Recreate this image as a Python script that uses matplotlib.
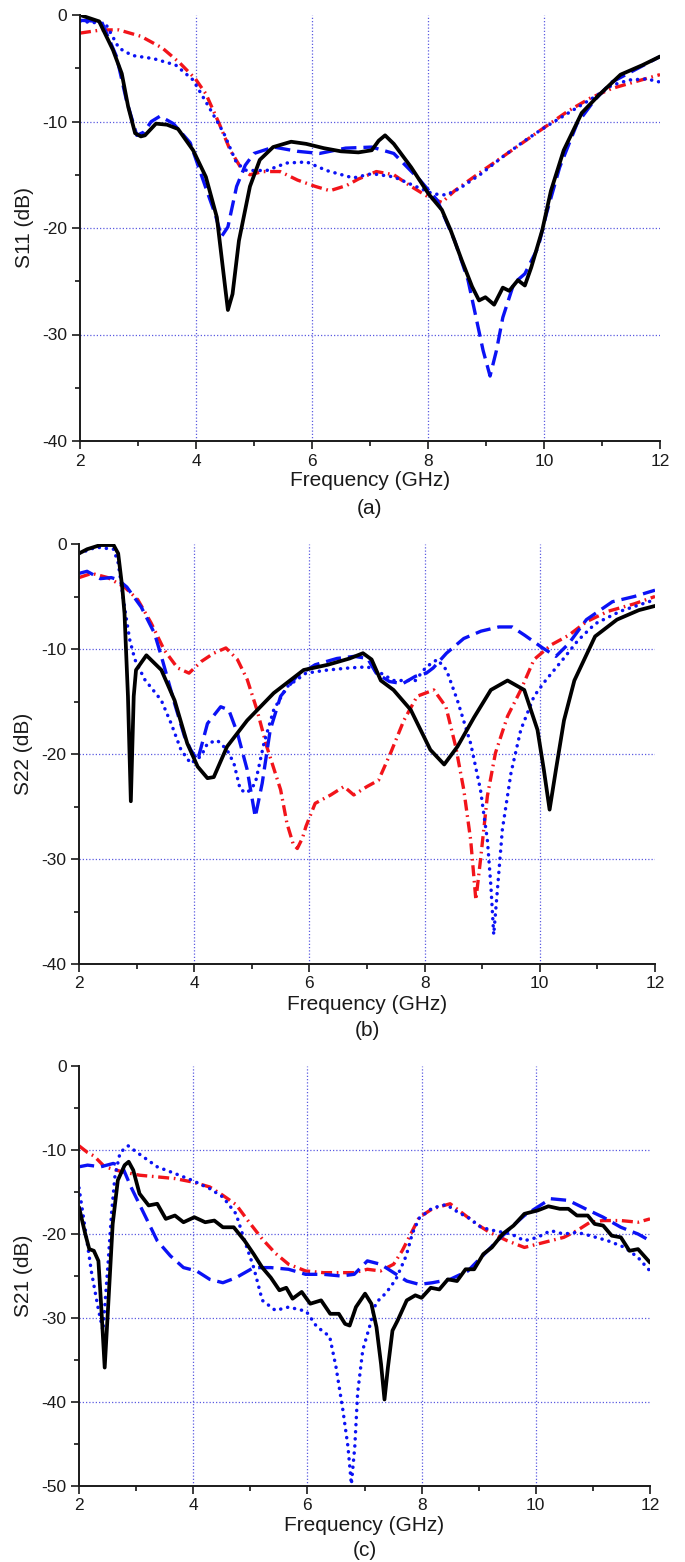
import matplotlib
matplotlib.use("Agg")
import matplotlib.pyplot as plt
from matplotlib.ticker import MultipleLocator

plt.rcParams["font.family"] = ["Liberation Sans", "DejaVu Sans"]
plt.rcParams["axes.unicode_minus"] = False

# ---------------------------------------------------------
# data (frequency in GHz, level in dB)
# ---------------------------------------------------------

# (a) S11
s11_solid_f = [2.0, 2.33, 2.57, 2.72, 2.83, 2.95, 3.05, 3.12, 3.31, 3.5, 3.69, 3.95, 4.17, 4.36, 4.51,
               4.55, 4.63, 4.74, 4.93, 5.1, 5.33, 5.64, 5.9, 6.2, 6.5, 6.8, 7.03, 7.15, 7.26, 7.41,
               7.71, 8.01, 8.24, 8.39, 8.58, 8.76, 8.88, 8.99, 9.14, 9.29, 9.4, 9.55, 9.67, 9.78,
               9.97, 10.12, 10.34, 10.65, 10.95, 11.32, 11.7, 12.0]
s11_solid = [0.0, -0.6, -3.3, -5.5, -8.6, -11.1, -11.4, -11.3, -10.2, -10.3, -10.7, -12.7, -15.2, -19.0, -25.9,
             -27.7, -26.2, -21.2, -16.1, -13.6, -12.4, -11.9, -12.1, -12.5, -12.8, -12.9, -12.7, -11.8, -11.3, -12.1,
             -14.3, -16.8, -18.3, -20.2, -23.0, -25.5, -26.8, -26.5, -27.2, -25.6, -25.9, -24.9, -25.4, -23.7,
             -20.2, -16.5, -12.7, -9.2, -7.5, -5.6, -4.7, -3.9]

s11_dash_f = [2.0, 2.37, 2.63, 2.8, 2.98, 3.1, 3.23, 3.38, 3.61, 3.9, 4.18, 4.33, 4.44, 4.55, 4.7,
              4.85, 5.0, 5.34, 5.75, 6.13, 6.58, 7.03, 7.41, 7.86, 8.16, 8.46, 8.69, 8.84, 8.95, 9.07,
              9.18, 9.29, 9.48, 9.67, 9.9, 10.04, 10.27, 10.57, 10.87, 11.17, 11.62, 12.0]
s11_dash = [-0.5, -0.6, -3.9, -8.0, -11.3, -11.0, -10.0, -9.5, -10.2, -12.0, -16.4, -18.7, -20.8, -19.9, -16.1,
            -14.1, -13.0, -12.4, -12.8, -13.0, -12.5, -12.4, -13.0, -15.5, -17.4, -21.2, -24.9, -28.7, -31.5, -33.9,
            -31.5, -28.4, -25.2, -24.3, -21.8, -18.7, -14.3, -10.2, -8.0, -6.3, -5.0, -3.9]

s11_dot_f = [2.0, 2.44, 2.67, 2.9, 3.27, 3.65, 3.95, 4.25, 4.48, 4.7, 4.87, 5.22, 5.56, 5.91, 6.25,
             6.71, 7.03, 7.41, 7.79, 8.09, 8.31, 8.54, 8.92, 9.29, 9.67, 9.97, 10.42, 10.87, 11.17, 11.47,
             11.77, 12.0]
s11_dot = [-0.6, -0.8, -3.1, -3.8, -4.1, -4.7, -6.1, -8.9, -11.1, -13.9, -14.6, -14.6, -13.9, -13.8, -14.6,
           -15.3, -14.9, -15.2, -16.1, -16.8, -16.9, -16.3, -14.9, -13.3, -11.8, -10.7, -9.2, -7.7, -6.6, -6.1,
           -6.0, -6.3]

s11_dashdot_f = [2.0, 2.37, 2.67, 3.05, 3.42, 3.72, 3.99, 4.17, 4.4, 4.59, 4.78, 4.93, 5.15, 5.45, 5.75,
                 6.06, 6.31, 6.6, 6.8, 7.11, 7.41, 7.71, 8.01, 8.24, 8.46, 8.92, 9.29, 9.97, 10.42, 10.8,
                 11.17, 11.55, 12.0]
s11_dashdot = [-1.7, -1.4, -1.4, -2.0, -3.1, -4.5, -6.0, -7.4, -10.2, -12.7, -14.4, -15.0, -14.7, -14.7, -15.5,
               -16.1, -16.5, -16.0, -15.4, -14.7, -15.0, -16.1, -17.1, -17.6, -16.5, -14.7, -13.3, -10.7, -9.0, -7.8,
               -6.9, -6.3, -5.6]

# (b) S22
s22_solid_f = [2.0, 2.14, 2.37, 2.6, 2.68, 2.75, 2.79, 2.85, 2.9, 2.95, 2.99, 3.17, 3.43, 3.66, 3.88,
               4.06, 4.23, 4.34, 4.57, 4.92, 5.38, 5.9, 6.32, 6.7, 6.93, 7.08, 7.24, 7.46, 7.76, 8.1,
               8.34, 8.57, 8.86, 9.15, 9.44, 9.73, 9.96, 10.07, 10.17, 10.28, 10.42, 10.6, 10.96, 11.34, 11.72,
               12.0]
s22_solid = [-0.9, -0.5, -0.1, -0.1, -0.9, -4.1, -6.6, -14.5, -24.5, -14.5, -12.0, -10.6, -12.0, -14.9, -19.0,
             -21.2, -22.3, -22.2, -19.3, -16.8, -14.2, -12.0, -11.5, -10.9, -10.4, -11.0, -13.0, -13.9, -15.8, -19.6,
             -21.0, -19.3, -16.5, -13.9, -13.0, -13.9, -17.7, -21.5, -25.3, -21.5, -16.8, -13.0, -8.8, -7.2, -6.3,
             -5.9]

s22_dash_f = [2.0, 2.14, 2.37, 2.56, 2.68, 2.83, 3.08, 3.31, 3.43, 3.66, 3.83, 3.94, 4.06, 4.23, 4.46,
              4.6, 4.75, 4.92, 5.06, 5.18, 5.32, 5.5, 5.78, 6.1, 6.48, 6.78, 7.01, 7.16, 7.39, 7.62,
              7.84, 8.03, 8.15, 8.38, 8.68, 8.98, 9.29, 9.52, 9.74, 10.05, 10.28, 10.5, 10.81, 11.26, 11.64,
              12.0]
s22_dash = [-2.8, -2.6, -3.3, -3.2, -3.4, -4.1, -6.0, -8.5, -10.7, -15.2, -18.3, -19.6, -20.6, -17.1, -15.5,
            -15.8, -18.0, -21.5, -26.0, -22.8, -17.7, -14.5, -12.6, -11.5, -10.9, -10.7, -10.9, -12.3, -13.1, -13.3,
            -12.6, -12.3, -11.8, -10.4, -9.0, -8.3, -7.9, -7.9, -8.7, -9.9, -10.7, -9.5, -7.2, -5.5, -5.0,
            -4.4]

s22_dot_f = [2.0, 2.3, 2.6, 2.68, 2.79, 2.88, 2.97, 3.14, 3.43, 3.6, 3.77, 3.94, 4.12, 4.23, 4.4,
             4.57, 4.69, 4.8, 4.92, 5.06, 5.21, 5.38, 5.61, 5.94, 6.32, 6.7, 7.01, 7.24, 7.46, 7.84,
             8.03, 8.22, 8.38, 8.57, 8.8, 8.97, 9.09, 9.15, 9.2, 9.26, 9.35, 9.5, 9.67, 9.9, 10.1,
             10.4, 10.66, 10.96, 11.4, 12.0]
s22_dot = [-0.9, -0.3, -0.5, -1.8, -6.0, -9.1, -11.0, -12.9, -14.9, -17.1, -19.6, -20.9, -20.2, -19.0, -18.7,
           -19.6, -20.9, -23.4, -23.7, -22.8, -19.0, -15.8, -13.6, -12.3, -12.0, -11.8, -11.7, -12.3, -13.0, -13.0,
           -11.7, -11.0, -12.0, -14.9, -19.0, -23.4, -28.2, -32.5, -37.2, -33.2, -27.2, -21.8, -17.7, -14.5, -13.0,
           -11.0, -9.2, -7.6, -6.4, -5.3]

s22_dashdot_f = [2.0, 2.22, 2.5, 2.79, 3.02, 3.25, 3.48, 3.71, 3.91, 4.12, 4.34, 4.55, 4.75, 4.92, 5.09,
                 5.26, 5.5, 5.61, 5.72, 5.79, 5.88, 5.94, 6.1, 6.37, 6.6, 6.77, 7.0, 7.2, 7.41, 7.64,
                 7.87, 8.16, 8.37, 8.54, 8.68, 8.8, 8.89, 8.97, 9.09, 9.23, 9.44, 9.67, 9.9, 10.2, 10.5,
                 10.81, 11.19, 11.64, 12.0]
s22_dashdot = [-3.2, -2.8, -3.2, -4.1, -5.3, -7.5, -10.1, -11.8, -12.3, -11.2, -10.4, -9.9, -11.0, -12.9, -15.8,
               -19.3, -23.4, -26.6, -28.6, -29.0, -28.0, -26.9, -24.7, -23.9, -23.1, -23.9, -23.1, -22.5, -19.9, -16.8,
               -14.5, -13.9, -15.5, -19.3, -23.4, -28.2, -33.9, -30.1, -24.0, -19.9, -16.4, -13.9, -11.0, -9.6, -8.7,
               -7.4, -6.4, -5.7, -5.0]

# (c) S21
s21_solid_f = [2.0, 2.11, 2.18, 2.26, 2.34, 2.39, 2.45, 2.51, 2.59, 2.68, 2.8, 2.87, 2.95, 3.06, 3.22,
               3.37, 3.52, 3.68, 3.83, 4.02, 4.21, 4.37, 4.52, 4.71, 4.9, 5.06, 5.21, 5.36, 5.51, 5.63,
               5.74, 5.9, 6.05, 6.24, 6.4, 6.55, 6.66, 6.74, 6.85, 7.01, 7.12, 7.21, 7.29, 7.35, 7.41,
               7.49, 7.58, 7.74, 7.89, 8.0, 8.16, 8.31, 8.46, 8.62, 8.77, 8.92, 9.08, 9.23, 9.42, 9.61,
               9.8, 10.03, 10.22, 10.42, 10.57, 10.72, 10.91, 11.03, 11.18, 11.33, 11.49, 11.64, 11.79, 12.0]
s21_solid = [-16.8, -20.0, -21.8, -22.0, -23.2, -28.7, -35.9, -28.7, -18.8, -13.6, -11.8, -11.4, -12.4, -15.2, -16.6,
             -16.4, -18.2, -17.8, -18.6, -18.0, -18.6, -18.4, -19.2, -19.2, -20.8, -22.4, -24.0, -25.2, -26.7, -26.4,
             -27.7, -26.9, -28.3, -27.9, -29.5, -29.5, -30.7, -30.9, -28.7, -27.1, -28.3, -31.1, -35.5, -39.7, -35.9,
             -31.5, -30.3, -27.9, -27.3, -27.6, -26.4, -26.6, -25.4, -25.6, -24.2, -24.2, -22.4, -21.6, -20.0, -19.0,
             -17.6, -17.2, -16.7, -17.0, -17.0, -17.8, -17.8, -18.8, -19.0, -20.2, -20.4, -22.0, -21.8, -23.4]

s21_dash_f = [2.0, 2.15, 2.38, 2.6, 2.76, 2.91, 3.14, 3.37, 3.6, 3.83, 4.06, 4.29, 4.52, 4.75, 5.06,
              5.36, 5.67, 5.97, 6.28, 6.59, 6.82, 7.05, 7.28, 7.51, 7.74, 7.96, 8.19, 8.5, 8.81, 9.04,
              9.27, 9.57, 9.8, 10.03, 10.26, 10.57, 10.87, 11.18, 11.49, 11.79, 12.0]
s21_dash = [-12.0, -11.8, -12.0, -11.6, -12.0, -14.4, -17.6, -20.8, -22.6, -24.0, -24.4, -25.4, -25.8, -25.2, -24.0,
            -24.0, -24.2, -24.8, -24.8, -25.0, -24.8, -23.2, -23.6, -24.6, -25.6, -26.0, -25.8, -25.4, -24.4, -22.8,
            -21.2, -19.2, -17.8, -16.8, -15.8, -16.0, -17.0, -18.0, -19.2, -20.0, -20.8]

s21_dot_f = [2.0, 2.1, 2.22, 2.34, 2.42, 2.51, 2.57, 2.63, 2.72, 2.86, 3.06, 3.37, 3.68, 3.98, 4.29,
             4.52, 4.75, 4.9, 5.06, 5.21, 5.44, 5.67, 5.98, 6.16, 6.39, 6.5, 6.62, 6.71, 6.77, 6.83,
             6.88, 6.97, 7.09, 7.2, 7.38, 7.55, 7.73, 7.84, 7.96, 8.19, 8.43, 8.66, 8.81, 9.04, 9.27,
             9.57, 9.8, 10.03, 10.26, 10.49, 10.72, 10.95, 11.26, 11.56, 11.79, 12.0]
s21_dot = [-14.5, -19.0, -24.6, -29.0, -31.5, -23.4, -17.5, -13.1, -10.3, -9.5, -10.5, -12.0, -12.8, -13.6, -14.6,
           -15.6, -17.6, -20.8, -24.0, -27.9, -29.1, -28.7, -29.2, -31.0, -32.2, -35.8, -40.9, -45.3, -49.8, -45.3,
           -38.9, -33.8, -31.0, -28.2, -27.0, -25.4, -22.6, -19.9, -18.1, -16.9, -16.5, -17.5, -18.0, -19.2, -19.6,
           -20.0, -20.8, -20.4, -19.6, -20.0, -19.8, -20.2, -20.8, -21.6, -22.8, -24.4]

s21_dashdot_f = [2.0, 2.15, 2.26, 2.45, 2.76, 3.06, 3.37, 3.68, 3.98, 4.29, 4.52, 4.75, 4.98, 5.21, 5.44,
                 5.67, 5.97, 6.28, 6.59, 6.82, 7.05, 7.28, 7.51, 7.66, 7.81, 7.96, 8.19, 8.5, 8.73, 8.96,
                 9.19, 9.5, 9.8, 10.03, 10.26, 10.49, 10.72, 10.95, 11.18, 11.49, 11.79, 12.0]
s21_dashdot = [-9.5, -10.3, -10.7, -12.0, -12.6, -13.0, -13.2, -13.4, -13.8, -14.4, -15.4, -16.5, -18.6, -20.6, -22.3,
               -23.6, -24.4, -24.6, -24.6, -24.6, -24.2, -24.4, -23.6, -22.0, -20.0, -18.0, -17.0, -16.4, -17.6, -18.8,
               -19.8, -20.8, -21.6, -21.2, -20.8, -20.4, -19.6, -18.6, -18.4, -18.4, -18.6, -18.2]

x_ticks = [2, 4, 6, 8, 10, 12]
x_grid = [4, 6, 8, 10]

# ---------------------------------------------------------
# styles
# ---------------------------------------------------------
BLUE = "#0b12f5"
RED = "#f2141a"
GRID = "#5b5be0"

STYLES = {
    "dashdot": dict(color=RED, lw=2.4, dashes=(3.3, 1.4, 0.5, 1.4)),
    "dot": dict(color=BLUE, lw=2.5, dashes=(0.05, 2.0), dash_capstyle="round"),
    "dash": dict(color=BLUE, lw=2.4, dashes=(4.6, 2.1)),
    "solid": dict(color="black", lw=2.7),
}

W, H = 685, 1562
fig = plt.figure(figsize=(W / 100, H / 100), dpi=100)

# (pixel box of axes, y range, y grid, label, letter, curves)
panels = [
    dict(box=(80, 15, 660, 441), ylim=(-40, 0), ygrid=[-10, -20, -30], ylabel="S11 (dB)", letter="(a)",
         xlab_off=30, letter_off=68,
         curves=[("dashdot", s11_dashdot_f, s11_dashdot), ("dot", s11_dot_f, s11_dot),
                 ("dash", s11_dash_f, s11_dash), ("solid", s11_solid_f, s11_solid)]),
    dict(box=(79, 544, 655, 964), ylim=(-40, 0), ygrid=[-10, -20, -30], ylabel="S22 (dB)", letter="(b)",
         xlab_off=31, letter_off=66,
         curves=[("dashdot", s22_dashdot_f, s22_dashdot), ("dot", s22_dot_f, s22_dot),
                 ("dash", s22_dash_f, s22_dash), ("solid", s22_solid_f, s22_solid)]),
    dict(box=(79, 1066, 650, 1486), ylim=(-50, 0), ygrid=[-10, -20, -30, -40], ylabel="S21 (dB)", letter="(c)",
         xlab_off=30, letter_off=64,
         curves=[("dashdot", s21_dashdot_f, s21_dashdot), ("dot", s21_dot_f, s21_dot),
                 ("dash", s21_dash_f, s21_dash), ("solid", s21_solid_f, s21_solid)]),
]

for p in panels:
    l, t, r, b = p["box"]
    ax = fig.add_axes([l / W, 1 - b / H, (r - l) / W, (b - t) / H])
    hpx = b - t

    for v in x_grid:
        ax.axvline(v, color=GRID, lw=0.9, ls=(0, (1, 1.6)), zorder=0)
    for v in p["ygrid"]:
        ax.axhline(v, color=GRID, lw=0.9, ls=(0, (1, 1.6)), zorder=0)

    for kind, f, s in p["curves"]:
        ax.plot(f, s, solid_capstyle="round", **STYLES[kind])

    ax.set_xlim(2, 12)
    ax.set_ylim(*p["ylim"])
    ax.set_xticks(x_ticks)
    ax.xaxis.set_minor_locator(MultipleLocator(1))
    ax.yaxis.set_major_locator(MultipleLocator(10))
    ax.yaxis.set_minor_locator(MultipleLocator(5))
    ax.tick_params(which="major", direction="out", length=6, width=1.2, labelsize=12.5,
                   colors="#1a1a1a", pad=3)
    ax.tick_params(which="minor", direction="out", length=3.5, width=1.1)

    for side in ["top", "right"]:
        ax.spines[side].set_visible(False)
    for side in ["left", "bottom"]:
        ax.spines[side].set_linewidth(1.4)
        ax.spines[side].set_color("#1a1a1a")

    ax.set_xlabel("Frequency (GHz)", fontsize=15, color="#1a1a1a")
    ax.xaxis.set_label_coords(0.5, -p["xlab_off"] / hpx)
    ax.set_ylabel(p["ylabel"], fontsize=15, color="#1a1a1a")
    ax.yaxis.set_label_coords(-0.08, 0.5)
    ax.text(0.5, -p["letter_off"] / hpx, p["letter"], transform=ax.transAxes,
            ha="center", va="center", fontsize=15, color="#1a1a1a")

fig.savefig("out.png", dpi=100, facecolor="white")
